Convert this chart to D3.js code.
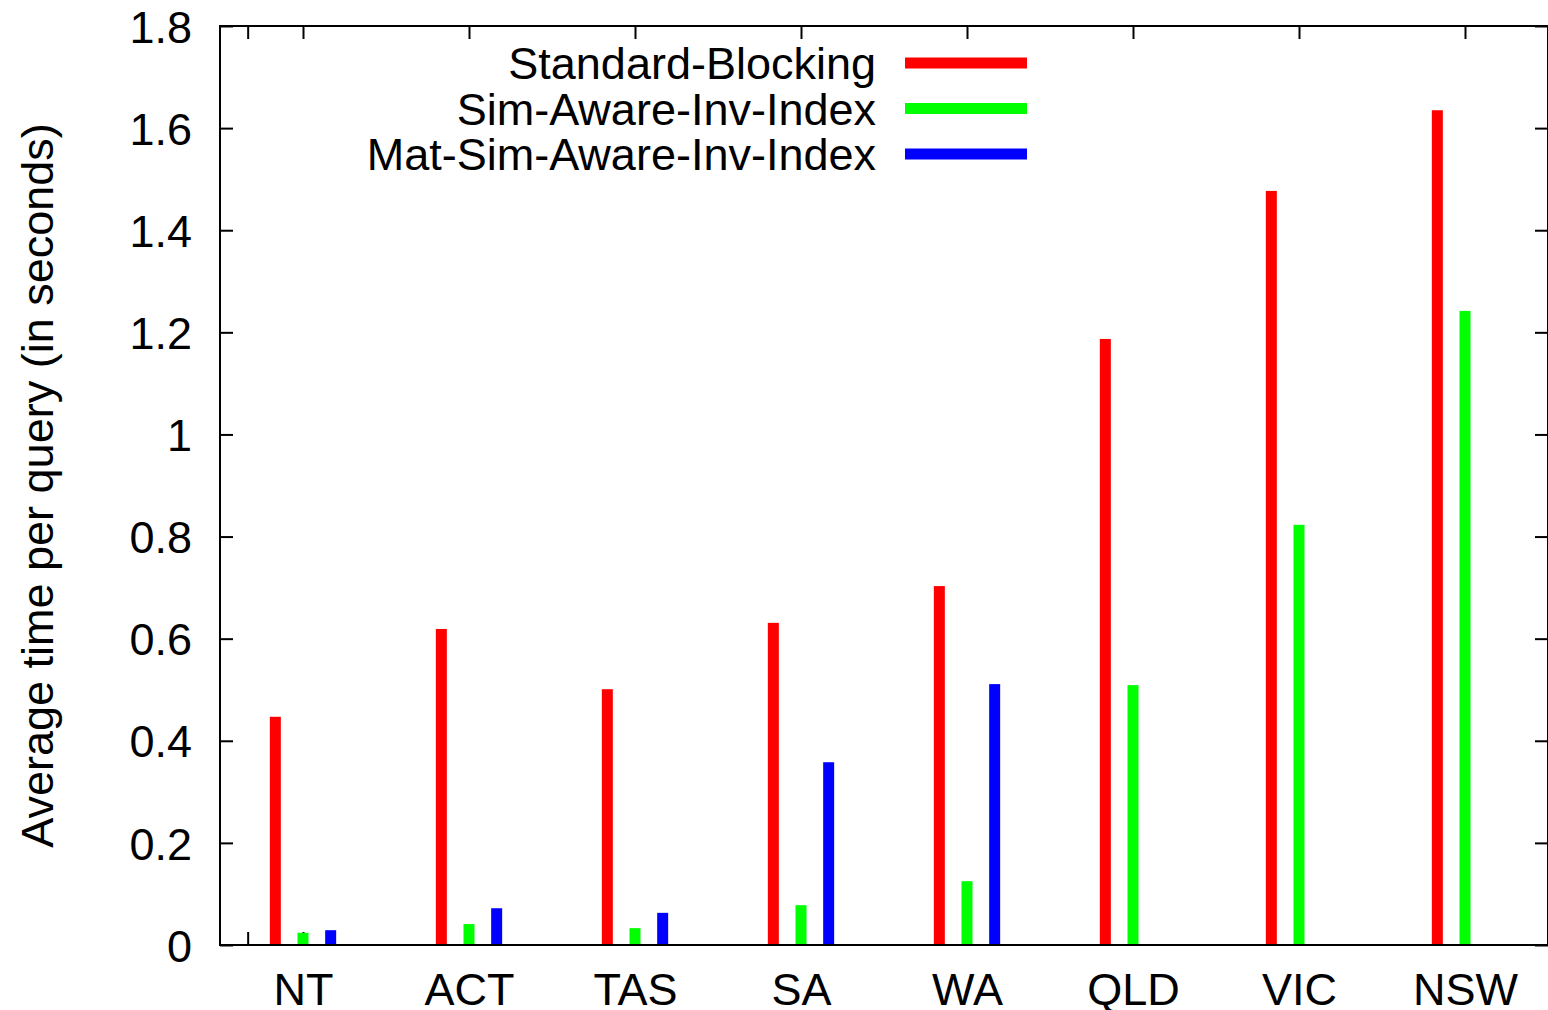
<!DOCTYPE html>
<html>
<head>
<meta charset="utf-8">
<script src="https://cdn.jsdelivr.net/npm/d3@7"></script>
<style>
  body { margin: 0; background: #fff; }
  svg text { font-family: "Liberation Sans", Arial, Helvetica, sans-serif; fill: #000; }
</style>
</head>
<body>
<svg id="chart" width="1548" height="1010"></svg>
<script>
const regions = ["NT", "ACT", "TAS", "SA", "WA", "QLD", "VIC", "NSW"];
const seriesNames = ["Standard-Blocking", "Sim-Aware-Inv-Index", "Mat-Sim-Aware-Inv-Index"];
const seriesColours = ["#ff0000", "#00ff00", "#0000ff"];

const standardBlocking = [0.447, 0.619, 0.501, 0.631, 0.703, 1.187, 1.477, 1.635];
const simAwareInvIndex = [0.024, 0.041, 0.033, 0.078, 0.125, 0.509, 0.823, 1.242];
const matSimAwareInvIndex = [0.029, 0.072, 0.063, 0.358, 0.511, null, null, null];

const yTicks = [0, 0.2, 0.4, 0.6, 0.8, 1, 1.2, 1.4, 1.6, 1.8];
const xTickPositions = [-1 / 3, 0, 1, 2, 3, 4, 5, 6, 7];

const allSeries = [standardBlocking, simAwareInvIndex, matSimAwareInvIndex];

const margin = { top: 26, right: 0, bottom: 65, left: 220 };
const totalWidth = 1548, totalHeight = 1010;
const width = totalWidth - margin.left - margin.right;
const height = totalHeight - margin.top - margin.bottom;
const fontSize = 45;
const tickLen = 13;

const svg = d3.select("#chart");
const chart = svg.append("g")
    .attr("transform", `translate(${margin.left}, ${margin.top})`);

const x = d3.scaleLinear().domain([-0.5, 7.5]).range([0, width]);
const y = d3.scaleLinear().domain([0, 1.8]).range([height, 0]);

// axes, gnuplot style: ticks pointing inward on all four sides
const styleAxis = g => {
    g.select(".domain").remove();
    g.selectAll("line").attr("stroke", "#000").attr("stroke-width", 2);
    g.selectAll("text").attr("font-size", fontSize).attr("font-family", null).attr("fill", "#000");
};

chart.append("g")
    .call(d3.axisLeft(y).tickValues(yTicks).tickSize(-tickLen).tickPadding(28)
        .tickFormat(d => String(+d.toFixed(1))))
    .call(styleAxis)
    .selectAll("text").attr("dy", "0.36em");

chart.append("g")
    .attr("transform", `translate(${width}, 0)`)
    .call(d3.axisRight(y).tickValues(yTicks).tickSize(-tickLen).tickFormat(""))
    .call(styleAxis);

chart.append("g")
    .attr("transform", `translate(0, ${height})`)
    .call(d3.axisBottom(x).tickValues(xTickPositions).tickSize(-tickLen).tickPadding(28)
        .tickFormat(d => Number.isInteger(d) ? regions[d] : ""))
    .call(styleAxis);

chart.append("g")
    .call(d3.axisTop(x).tickValues(xTickPositions).tickSize(-tickLen).tickFormat(""))
    .call(styleAxis);

// bars drawn over the ticks, three per region, offset by a sixth of a slot
const barOffset = 1 / 6;
const barWidth = 11;

allSeries.forEach((values, s) => {
    chart.append("g")
        .selectAll("rect")
        .data(values.map((v, i) => ({ v, i })).filter(d => d.v !== null))
        .join("rect")
        .attr("x", d => x(d.i + (s - 1) * barOffset) - barWidth / 2)
        .attr("width", barWidth)
        .attr("y", d => y(d.v))
        .attr("height", d => y(0) - y(d.v))
        .attr("fill", seriesColours[s]);
});

// border
chart.append("rect")
    .attr("width", width)
    .attr("height", height)
    .attr("fill", "none")
    .attr("stroke", "#000")
    .attr("stroke-width", 2);

// y label
svg.append("text")
    .attr("transform", `translate(37, ${margin.top + height / 2}) rotate(-90)`)
    .attr("text-anchor", "middle")
    .attr("dominant-baseline", "central")
    .attr("font-size", fontSize)
    .text("Average time per query (in seconds)");

// legend
const legend = chart.append("g")
    .attr("transform", "translate(656, 37)");

const legendItems = legend.selectAll("g")
    .data(seriesNames)
    .join("g")
    .attr("transform", (_, i) => `translate(0, ${i * 45.5})`);

legendItems.append("text")
    .attr("text-anchor", "end")
    .attr("dy", "0.36em")
    .attr("font-size", fontSize)
    .text(d => d);

legendItems.append("line")
    .attr("x1", 29)
    .attr("x2", 151)
    .attr("stroke", (_, i) => seriesColours[i])
    .attr("stroke-width", 11);
</script>
</body>
</html>
